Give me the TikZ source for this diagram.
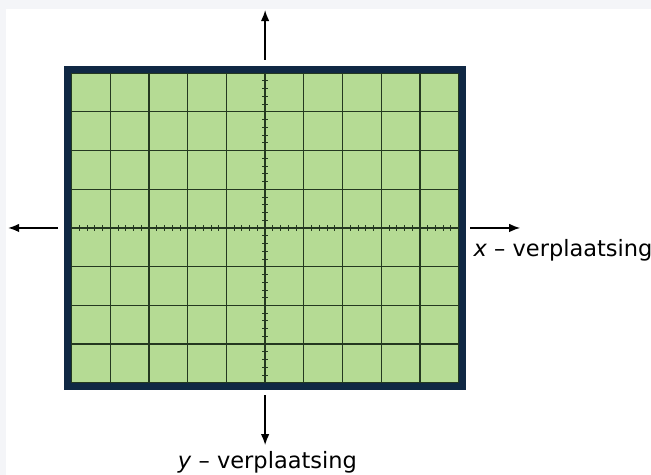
\documentclass[tikz,border=0pt]{standalone}
\usepackage{fontspec}
\setmainfont{DejaVu Sans}
\usetikzlibrary{arrows.meta}
\definecolor{screen}{RGB}{181,219,148}
\definecolor{gridline}{RGB}{36,56,32}
\definecolor{frame}{RGB}{16,40,68}
\definecolor{pagegrey}{RGB}{244,245,248}

\begin{document}
\begin{tikzpicture}[x=38.7pt,y=38.7pt,
  axisarrow/.style={-{Latex[length=11pt,width=8.5pt]},line width=1.4pt},
  lbl/.style={font=\fontsize{22.5}{26}\selectfont,inner sep=0pt}]
  \fill[pagegrey] (-6.85,-6.38) rectangle (9.97,5.89);
  \fill[white] (-6.7,-6.38) rectangle (9.97,5.66);
  \useasboundingbox (-6.85,-6.38) rectangle (9.97,5.89);
  \fill[screen] (-5,-4) rectangle (5,4);
  \draw[gridline,line width=1.2pt,step={(1,1)}] (-5,-4) grid (5,4);
  \draw[gridline,line width=1.4pt] (-5,0) -- (5,0) (0,-4) -- (0,4);
  \foreach \t in {-4.8,-4.6,...,4.9}{\draw[gridline,line width=0.8pt] (\t,-0.07) -- (\t,0.07);}
  \foreach \t in {-3.8,-3.6,...,3.9}{\draw[gridline,line width=0.8pt] (-0.07,\t) -- (0.07,\t);}
  \draw[frame,line width=7.5pt] (-5.1,-4.1) rectangle (5.1,4.1);
  \coordinate (up0) at (0,4.34);   \coordinate (up1) at (0,5.63);
  \coordinate (lt0) at (-5.35,0);  \coordinate (lt1) at (-6.64,0);
  \coordinate (rt0) at (5.3,0);    \coordinate (rt1) at (6.59,0);
  \coordinate (dn0) at (0,-4.32);  \coordinate (dn1) at (0,-5.61);
  \draw[axisarrow] (up0) -- (up1);
  \draw[axisarrow] (lt0) -- (lt1);
  \draw[axisarrow] (rt0) -- (rt1);
  \draw[axisarrow] (dn0) -- (dn1);
  \node[lbl,anchor=west] (xlab) at (5.38,-0.57) {\textit{x} -- verplaatsing};
  \node[lbl] (ylab) at (0.06,-6.05) {\textit{y} -- verplaatsing};
\end{tikzpicture}
\end{document}
